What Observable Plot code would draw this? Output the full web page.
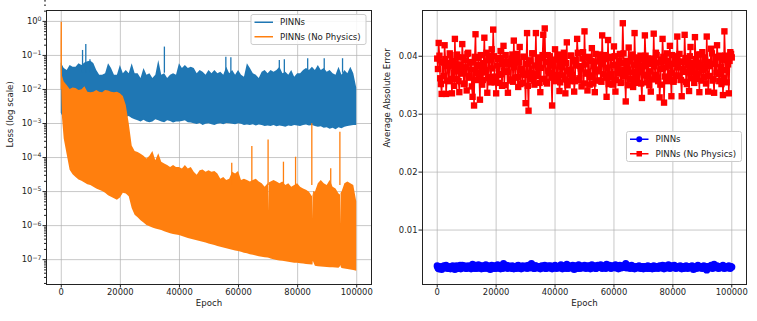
<!DOCTYPE html>
<html><head><meta charset="utf-8">
<script src="https://cdn.jsdelivr.net/npm/d3@7"></script>
<script src="https://cdn.jsdelivr.net/npm/@observablehq/plot@0.6"></script>
<style>
body{margin:0;background:#fff}
#fig{position:relative;width:757px;height:321px;background:#fff}
#fig svg{position:absolute;top:0}
</style>
</head><body><div id="fig"></div><script>
// ---------- Left panel: training loss (log scale) ----------
const seriesNames = ["PINNs", "PINNs (No Physics)"];
const xTicks = [0, 20000, 40000, 60000, 80000, 100000];
const lossTicks = [1e-7, 1e-6, 1e-5, 1e-4, 1e-3, 1e-2, 1e-1, 1];
const errTicks = [0.01, 0.02, 0.03, 0.04];

// PINNs loss envelope, every 1000 epochs (0..100000)
const pinnLossEpoch = d3.range(0, 100001, 1000);
const pinnLossHigh = [
  0.06, 0.041, 0.036, 0.051, 0.045, 0.045, 0.057, 0.051, 0.06, 0.065,
  0.068, 0.058, 0.036, 0.026, 0.026, 0.029, 0.057, 0.041, 0.026, 0.026,
  0.051, 0.029, 0.036, 0.029, 0.057, 0.029, 0.029, 0.021, 0.041, 0.026,
  0.029, 0.021, 0.026, 0.071, 0.026, 0.029, 0.021, 0.026, 0.029, 0.026,
  0.057, 0.041, 0.051, 0.041, 0.045, 0.041, 0.029, 0.036, 0.032, 0.026,
  0.036, 0.029, 0.036, 0.029, 0.032, 0.026, 0.045, 0.029, 0.036, 0.026,
  0.036, 0.026, 0.023, 0.057, 0.041, 0.029, 0.026, 0.021, 0.032, 0.036,
  0.029, 0.036, 0.032, 0.036, 0.045, 0.029, 0.032, 0.026, 0.036, 0.023,
  0.029, 0.029, 0.036, 0.041, 0.036, 0.045, 0.036, 0.051, 0.036, 0.041,
  0.032, 0.036, 0.029, 0.026, 0.045, 0.026, 0.036, 0.029, 0.045, 0.029,
  0.011];
const pinnLossLow = [
  0.002, 0.0013, 0.0012, 0.0012, 0.0011, 0.0012, 0.0013, 0.0012, 0.0011, 0.0012,
  0.0012, 0.0011, 0.0013, 0.0012, 0.0011, 0.0012, 0.0012, 0.0011, 0.0012, 0.0013,
  0.0013, 0.0014, 0.0015, 0.0016, 0.0014, 0.0013, 0.0012, 0.0011, 0.00125, 0.0011,
  0.00105, 0.0011, 0.0013, 0.0012, 0.0011, 0.00105, 0.0012, 0.00115, 0.00103, 0.0011,
  0.0011, 0.00115, 0.0012, 0.00105, 0.00103, 0.00098, 0.00094, 0.001, 0.00087, 0.00095,
  0.00098, 0.00092, 0.00087, 0.00095, 0.00098, 0.00092, 0.001, 0.00098, 0.00095, 0.00092,
  0.00098, 0.00095, 0.00087, 0.0009, 0.00087, 0.00092, 0.00085, 0.0009, 0.00087, 0.00082,
  0.00085, 0.00082, 0.00087, 0.0008, 0.00085, 0.00082, 0.00078, 0.00085, 0.00082, 0.00087,
  0.00085, 0.00082, 0.00087, 0.0009, 0.00085, 0.00087, 0.00082, 0.00078, 0.0008, 0.00072,
  0.00075, 0.00068, 0.00072, 0.00066, 0.00075, 0.0007, 0.00078, 0.00082, 0.00085, 0.00088,
  0.00088];
const pinnSpikeEpoch = [7200, 8300, 9700, 34900, 55700, 57400, 73800, 75500, 83400, 89000, 95200];
const pinnSpikeTop   = [0.14, 0.21, 0.075, 0.176, 0.089, 0.085, 0.071, 0.075, 0.08, 0.08, 0.08];

// PINNs (No Physics) loss envelope
const noPhysEarlyEpoch = [0, 150, 400];
const noPhysEarlyHigh  = [0.95, 0.06, 0.025];
const noPhysEarlyLow   = [0.05, 0.01, 0.0015];
const noPhysLossEpoch = d3.range(1000, 100001, 1000);
const noPhysLossHigh = [
  0.0165, 0.013, 0.010, 0.011, 0.0107, 0.0093, 0.0098, 0.012, 0.0083, 0.008,
  0.0083, 0.0093, 0.0083, 0.008, 0.0093, 0.009, 0.0083, 0.008, 0.0083, 0.0075,
  0.0062, 0.0034, 0.00098, 0.00022, 0.00015, 1.4e-4, 1.25e-4, 1.1e-4, 9e-5, 1.1e-4,
  1.5e-4, 8e-5, 1.3e-4, 7.3e-5, 6.5e-5, 5.8e-5, 5.1e-5, 5.8e-5, 5.1e-5, 5.1e-5,
  4.6e-5, 5.8e-5, 4.6e-5, 5.1e-5, 3.7e-5, 3.0e-5, 4.1e-5, 4.3e-5, 3.7e-5, 4.1e-5,
  3.7e-5, 3.9e-5, 3.3e-5, 2.3e-5, 2.6e-5, 2.1e-5, 2.3e-5, 3.7e-5, 3.3e-5, 3.9e-5,
  2.1e-5, 2.3e-5, 2.1e-5, 1.9e-5, 2.1e-5, 2.3e-5, 1.9e-5, 1.7e-5, 1.35e-5, 1.7e-5,
  1.9e-5, 2.1e-5, 1.9e-5, 1.7e-5, 1.9e-5, 1.5e-5, 1.7e-5, 1.35e-5, 1.5e-5, 1.7e-5,
  1.35e-5, 1.2e-5, 1.1e-5, 9.5e-6, 7e-6, 9.5e-6, 1.7e-5, 2.1e-5, 1.7e-5, 1.5e-5,
  2.1e-5, 1.35e-5, 1.2e-5, 8.5e-6, 9.5e-6, 1.7e-5, 1.9e-5, 1.7e-5, 1.5e-5, 5e-6];
const noPhysLossLow = [
  3.5e-4, 1.2e-4, 4.2e-5, 3.1e-5, 2.6e-5, 2.2e-5, 2.0e-5, 1.8e-5, 1.6e-5, 1.5e-5,
  1.35e-5, 1.2e-5, 1.1e-5, 1.0e-5, 9e-6, 7.5e-6, 6.8e-6, 6.2e-6, 5.6e-6, 6.5e-6,
  9e-6, 8.5e-6, 7e-6, 3.2e-6, 2.0e-6, 1.7e-6, 1.4e-6, 1.2e-6, 1.0e-6, 9.2e-7,
  8.5e-7, 8.0e-7, 7.6e-7, 7.2e-7, 6.6e-7, 6.2e-7, 5.8e-7, 5.5e-7, 5.3e-7, 5.1e-7,
  4.8e-7, 4.5e-7, 4.2e-7, 4.0e-7, 3.8e-7, 3.6e-7, 3.4e-7, 3.25e-7, 3.1e-7, 2.9e-7,
  2.75e-7, 2.6e-7, 2.45e-7, 2.3e-7, 2.2e-7, 2.1e-7, 2.0e-7, 1.9e-7, 1.8e-7, 1.75e-7,
  1.65e-7, 1.55e-7, 1.48e-7, 1.4e-7, 1.35e-7, 1.28e-7, 1.22e-7, 1.18e-7, 1.14e-7, 1.12e-7,
  1.05e-7, 1.0e-7, 9.5e-8, 9.2e-8, 9.0e-8, 8.7e-8, 8.4e-8, 8.1e-8, 7.9e-8, 7.8e-8,
  7.6e-8, 7.4e-8, 7.2e-8, 7.1e-8, 7.0e-8, 6.4e-8, 6.2e-8, 6.1e-8, 6.0e-8, 5.9e-8,
  5.8e-8, 5.75e-8, 5.7e-8, 5.6e-8, 5.5e-8, 5.3e-8, 5.1e-8, 5.0e-8, 4.8e-8, 4.6e-8];
const noPhysNotchEpoch = [70200, 70300, 70400, 85200, 85300, 85400, 94500, 94600, 94700];
const noPhysNotchHigh  = [1.7e-5, 2.5e-6, 1.8e-5, 9e-6, 1.6e-6, 1e-5, 8e-6, 1.1e-6, 9e-6];
const noPhysNotchLow   = [1.1e-7, 1.1e-7, 1.1e-7, 7e-8, 9e-8, 8.5e-8, 6.2e-8, 6.8e-8, 6.2e-8];
const noPhysSpikeEpoch = [0, 57700, 64500, 70000, 75200, 79300, 84800, 91200, 94300];
const noPhysSpikeTop   = [0.95, 6.8e-5, 2.1e-4, 3.3e-4, 7.3e-5, 1.02e-4, 9.8e-4, 4.7e-5, 5.5e-4];
const noPhysSpikeBase  = [0.01, 1.5e-5, 1.5e-5, 1.5e-5, 1.5e-5, 1.5e-5, 1.5e-5, 1.5e-5, 1.5e-5];

// ---------- Right panel: average absolute error ----------
// recorded at epochs 0, 500, ..., 100000
const errEpoch = d3.range(0, 100001, 500);
const pinnErr = [
  0.0038,0.0033,0.0036,0.0032,0.0037,0.0035,0.0039,0.0034,0.0036,0.0033,
  0.0037,0.0035,0.0032,0.0038,0.0034,0.0036,0.0033,0.0039,0.0035,0.0037,
  0.0034,0.0038,0.0036,0.0033,0.0041,0.0035,0.0039,0.0034,0.0040,0.0036,
  0.0033,0.0038,0.0035,0.0040,0.0034,0.0037,0.0032,0.0039,0.0035,0.0038,
  0.0034,0.0040,0.0036,0.0033,0.0038,0.0042,0.0035,0.0039,0.0034,0.0037,
  0.0035,0.0038,0.0033,0.0037,0.0034,0.0039,0.0036,0.0033,0.0038,0.0035,
  0.0037,0.0034,0.0039,0.0035,0.0042,0.0036,0.0034,0.0038,0.0035,0.0037,
  0.0033,0.0038,0.0035,0.0039,0.0034,0.0037,0.0035,0.0038,0.0033,0.0036,
  0.0039,0.0034,0.0037,0.0035,0.0040,0.0033,0.0038,0.0036,0.0041,0.0034,
  0.0037,0.0035,0.0039,0.0032,0.0038,0.0036,0.0040,0.0034,0.0037,0.0035,
  0.0039,0.0034,0.0038,0.0036,0.0033,0.0040,0.0035,0.0038,0.0034,0.0039,
  0.0036,0.0040,0.0034,0.0038,0.0035,0.0041,0.0036,0.0039,0.0034,0.0038,
  0.0035,0.0040,0.0036,0.0033,0.0039,0.0035,0.0038,0.0036,0.0042,0.0035,
  0.0038,0.0034,0.0039,0.0036,0.0033,0.0037,0.0035,0.0038,0.0034,0.0036,
  0.0033,0.0037,0.0035,0.0038,0.0034,0.0036,0.0033,0.0038,0.0035,0.0037,
  0.0034,0.0038,0.0035,0.0039,0.0033,0.0037,0.0035,0.0040,0.0034,0.0038,
  0.0036,0.0039,0.0034,0.0037,0.0035,0.0038,0.0033,0.0037,0.0035,0.0038,
  0.0034,0.0037,0.0035,0.0038,0.0032,0.0036,0.0034,0.0039,0.0035,0.0037,
  0.0034,0.0038,0.0035,0.0031,0.0037,0.0035,0.0039,0.0034,0.0041,0.0036,
  0.0038,0.0034,0.0037,0.0035,0.0039,0.0034,0.0037,0.0035,0.0038,0.0034,
  0.0036];
const noPhysErr = [
  0.0396,0.0423,0.0362,0.0335,0.0391,0.0419,0.0335,0.0388,0.0357,0.0402,
  0.0336,0.0384,0.0430,0.0361,0.0398,0.0338,0.0379,0.0421,0.0352,0.0393,
  0.0341,0.0406,0.0366,0.0389,0.0330,0.0315,0.0438,0.0371,0.0397,0.0325,
  0.0382,0.0359,0.0432,0.0376,0.0337,0.0401,0.0364,0.0412,0.0446,0.0355,
  0.0336,0.0395,0.0368,0.0409,0.0349,0.0418,0.0374,0.0391,0.0337,0.0386,
  0.0358,0.0403,0.0427,0.0363,0.0396,0.0347,0.0416,0.0378,0.0354,0.0399,
  0.0319,0.0440,0.0306,0.0392,0.0361,0.0405,0.0351,0.0440,0.0369,0.0388,
  0.0338,0.0397,0.0437,0.0448,0.0356,0.0402,0.0371,0.0393,0.0315,0.0384,
  0.0412,0.0362,0.0398,0.0340,0.0389,0.0367,0.0406,0.0336,0.0424,0.0375,
  0.0357,0.0401,0.0366,0.0339,0.0394,0.0430,0.0359,0.0383,0.0348,0.0407,
  0.0443,0.0372,0.0341,0.0396,0.0364,0.0414,0.0353,0.0338,0.0391,0.0377,
  0.0403,0.0358,0.0436,0.0369,0.0395,0.0330,0.0428,0.0363,0.0399,0.0351,
  0.0417,0.0339,0.0385,0.0370,0.0404,0.0355,0.0457,0.0376,0.0322,0.0392,
  0.0415,0.0361,0.0398,0.0347,0.0440,0.0373,0.0389,0.0354,0.0401,0.0328,
  0.0383,0.0436,0.0365,0.0396,0.0350,0.0339,0.0392,0.0439,0.0368,0.0402,
  0.0357,0.0329,0.0394,0.0430,0.0320,0.0381,0.0405,0.0363,0.0418,0.0331,
  0.0387,0.0359,0.0400,0.0434,0.0366,0.0391,0.0331,0.0378,0.0437,0.0356,
  0.0395,0.0340,0.0416,0.0372,0.0388,0.0433,0.0361,0.0403,0.0338,0.0382,
  0.0407,0.0364,0.0393,0.0434,0.0339,0.0386,0.0413,0.0358,0.0337,0.0397,
  0.0419,0.0369,0.0401,0.0352,0.0333,0.0443,0.0376,0.0394,0.0336,0.0407,
  0.0398];
// recorded at epochs 250, 750, ..., 99750
const errMidEpoch = d3.range(250, 100000, 500);
const pinnErrMid = [
  0.0035,0.0037,0.0034,0.0036,0.0038,0.0035,0.0036,0.0037,0.0034,0.0036,
  0.0038,0.0035,0.0037,0.0034,0.0036,0.0039,0.0035,0.0036,0.0038,0.0034,
  0.0036,0.0037,0.0035,0.0038,0.0036,0.0034,0.0037,0.0036,0.0035,0.0038,
  0.0036,0.0034,0.0037,0.0035,0.0038,0.0036,0.0035,0.0037,0.0034,0.0036,
  0.0037,0.0035,0.0038,0.0036,0.0034,0.0037,0.0036,0.0035,0.0038,0.0036,
  0.0034,0.0036,0.0037,0.0035,0.0038,0.0036,0.0034,0.0037,0.0035,0.0036,
  0.0038,0.0036,0.0035,0.0037,0.0036,0.0034,0.0038,0.0035,0.0036,0.0037,
  0.0035,0.0036,0.0037,0.0034,0.0036,0.0038,0.0035,0.0036,0.0037,0.0035,
  0.0036,0.0037,0.0035,0.0038,0.0036,0.0035,0.0037,0.0034,0.0036,0.0038,
  0.0035,0.0037,0.0036,0.0035,0.0037,0.0034,0.0036,0.0038,0.0035,0.0036,
  0.0037,0.0035,0.0036,0.0038,0.0035,0.0037,0.0036,0.0034,0.0037,0.0036,
  0.0038,0.0035,0.0036,0.0037,0.0034,0.0036,0.0038,0.0035,0.0037,0.0036,
  0.0037,0.0035,0.0038,0.0036,0.0035,0.0037,0.0036,0.0039,0.0035,0.0037,
  0.0036,0.0035,0.0037,0.0034,0.0036,0.0035,0.0037,0.0036,0.0035,0.0037,
  0.0035,0.0036,0.0034,0.0036,0.0037,0.0035,0.0036,0.0034,0.0037,0.0035,
  0.0036,0.0037,0.0035,0.0036,0.0038,0.0035,0.0036,0.0037,0.0036,0.0035,
  0.0037,0.0036,0.0035,0.0036,0.0037,0.0035,0.0036,0.0034,0.0036,0.0037,
  0.0035,0.0036,0.0037,0.0035,0.0034,0.0036,0.0037,0.0035,0.0036,0.0035,
  0.0036,0.0035,0.0037,0.0034,0.0036,0.0037,0.0035,0.0038,0.0036,0.0035,
  0.0037,0.0035,0.0036,0.0037,0.0035,0.0036,0.0037,0.0035,0.0036,0.0037];
const noPhysErrMid = [
  0.0378,0.0401,0.0352,0.0389,0.0366,0.0395,0.0358,0.0383,0.0405,0.0361,
  0.0392,0.0349,0.0374,0.0403,0.0357,0.0386,0.0370,0.0398,0.0353,0.0381,
  0.0404,0.0363,0.0390,0.0348,0.0377,0.0399,0.0359,0.0385,0.0367,0.0402,
  0.0351,0.0388,0.0372,0.0406,0.0362,0.0393,0.0355,0.0379,0.0400,0.0365,
  0.0384,0.0354,0.0397,0.0369,0.0387,0.0350,0.0402,0.0373,0.0391,0.0360,
  0.0396,0.0356,0.0382,0.0404,0.0364,0.0389,0.0352,0.0376,0.0399,0.0368,
  0.0387,0.0349,0.0393,0.0371,0.0405,0.0358,0.0384,0.0366,0.0398,0.0354,
  0.0380,0.0402,0.0361,0.0390,0.0353,0.0375,0.0400,0.0363,0.0386,0.0357,
  0.0394,0.0368,0.0403,0.0355,0.0381,0.0397,0.0360,0.0388,0.0350,0.0377,
  0.0401,0.0365,0.0391,0.0357,0.0384,0.0406,0.0362,0.0379,0.0396,0.0353,
  0.0386,0.0370,0.0399,0.0351,0.0392,0.0367,0.0383,0.0404,0.0358,0.0374,
  0.0395,0.0356,0.0389,0.0402,0.0363,0.0380,0.0352,0.0397,0.0369,0.0385,
  0.0400,0.0359,0.0377,0.0393,0.0354,0.0388,0.0405,0.0366,0.0382,0.0350,
  0.0391,0.0372,0.0403,0.0357,0.0385,0.0364,0.0398,0.0376,0.0353,0.0394,
  0.0368,0.0401,0.0355,0.0387,0.0374,0.0396,0.0360,0.0383,0.0406,0.0362,
  0.0389,0.0351,0.0378,0.0399,0.0365,0.0392,0.0357,0.0384,0.0371,0.0402,
  0.0356,0.0393,0.0367,0.0381,0.0404,0.0359,0.0390,0.0373,0.0397,0.0352,
  0.0385,0.0400,0.0362,0.0379,0.0354,0.0395,0.0370,0.0388,0.0403,0.0358,
  0.0376,0.0398,0.0353,0.0390,0.0366,0.0383,0.0405,0.0361,0.0387,0.0372,
  0.0399,0.0357,0.0381,0.0394,0.0363,0.0401,0.0355,0.0386,0.0392,0.0404];

// ---------- build rows ----------
const pinnLossRows = pinnLossEpoch.map((e, i) => ({epoch: e, low: pinnLossLow[i], high: pinnLossHigh[i]}));
const noPhysLossRows = [
  ...noPhysEarlyEpoch.map((e, i) => ({epoch: e, low: noPhysEarlyLow[i], high: noPhysEarlyHigh[i]})),
  ...noPhysLossEpoch.map((e, i) => ({epoch: e, low: noPhysLossLow[i], high: noPhysLossHigh[i]})),
  ...noPhysNotchEpoch.map((e, i) => ({epoch: e, low: noPhysNotchLow[i], high: noPhysNotchHigh[i]}))
].sort((a, b) => a.epoch - b.epoch);
const pinnSpikes = pinnSpikeEpoch.map((e, i) => ({epoch: e, base: 0.03, top: pinnSpikeTop[i]}));
const noPhysSpikes = noPhysSpikeEpoch.map((e, i) => ({epoch: e, base: noPhysSpikeBase[i], top: noPhysSpikeTop[i]}));
const byEpoch = (a, b) => a.epoch - b.epoch;
const pinnErrRows = [
  ...errEpoch.map((e, i) => ({epoch: e, value: pinnErr[i]})),
  ...errMidEpoch.map((e, i) => ({epoch: e, value: pinnErrMid[i]}))
].sort(byEpoch);
const noPhysErrRows = [
  ...errEpoch.map((e, i) => ({epoch: e, value: noPhysErr[i]})),
  ...errMidEpoch.map((e, i) => ({epoch: e, value: noPhysErrMid[i]}))
].sort(byEpoch);

const C1 = "#1f77b4", C2 = "#ff7f0e";
const FONT = "DejaVu Sans";
const powFmt = d => "10^" + String(Math.round(Math.log10(d))).replace("-", "\u2212");
const minorTicks = [];
for (let k = -8; k <= 0; k++) for (let m = 2; m <= 9; m++) minorTicks.push(m * Math.pow(10, k));
const gridStyle = {stroke: "#b0b0b0", strokeOpacity: 0.7, strokeWidth: 1};
const commonStyle = {fontFamily: FONT, fontSize: "8.4px", background: "white", color: "#222", overflow: "visible"};

const left = Plot.plot({
  width: 380, height: 321,
  marginLeft: 46, marginRight: 9, marginTop: 10, marginBottom: 37,
  style: commonStyle,
  x: {domain: [-5000, 105000]},
  y: {type: "log", domain: [Math.pow(10, -7.73), Math.pow(10, 0.32)]},
  marks: [
    Plot.gridX(xTicks, gridStyle),
    Plot.gridY(lossTicks, gridStyle),
    Plot.areaY(pinnLossRows, {x: "epoch", y1: "low", y2: "high", fill: C1}),
    Plot.ruleX(pinnSpikes, {x: "epoch", y1: "base", y2: "top", stroke: C1, strokeWidth: 1.3}),
    Plot.areaY(noPhysLossRows, {x: "epoch", y1: "low", y2: "high", fill: C2}),
    Plot.ruleX(noPhysSpikes, {x: "epoch", y1: "base", y2: "top", stroke: C2, strokeWidth: 1.3}),
    Plot.frame({stroke: "#222", strokeWidth: 1}),
    Plot.axisX({ticks: xTicks, tickFormat: d => String(d), tickSize: 3.5, tickPadding: 1.5, label: null}),
    Plot.axisY({ticks: lossTicks, tickFormat: powFmt, tickSize: 3.5, tickPadding: 1.5, label: null}),
    Plot.axisY({ticks: minorTicks, tickFormat: () => "", tickSize: 2, label: null}),
    Plot.text(["Epoch"], {text: d => d, frameAnchor: "bottom", dy: 21, fontSize: 8.6}),
    Plot.text(["Loss (log scale)"], {text: d => d, frameAnchor: "left", rotate: -90, dx: -36, fontSize: 8.6})
  ]
});

// render the exponent of the log tick labels as a raised, smaller tspan
d3.select(left).selectAll("text").each(function () {
  const t = this.textContent;
  if (t.startsWith("10^")) {
    const exp = t.slice(3);
    this.textContent = "10";
    d3.select(this).append("tspan").attr("dy", "-0.45em").attr("font-size", "6.2px").text(exp);
  }
});

const right = Plot.plot({
  width: 377, height: 321,
  marginLeft: 42, marginRight: 11, marginTop: 10, marginBottom: 37,
  style: commonStyle,
  x: {domain: [-5000, 105000]},
  y: {domain: [0.0006, 0.0479]},
  marks: [
    Plot.gridX(xTicks, gridStyle),
    Plot.gridY(errTicks, gridStyle),
    Plot.line(pinnErrRows, {x: "epoch", y: "value", stroke: "#0000ff", strokeWidth: 1.5}),
    Plot.dot(pinnErrRows, {x: "epoch", y: "value", fill: "#0000ff", r: 3.6}),
    Plot.line(noPhysErrRows, {x: "epoch", y: "value", stroke: "#ff0000", strokeWidth: 1.5}),
    Plot.dot(noPhysErrRows, {x: "epoch", y: "value", fill: "#ff0000", symbol: "square", r: 3.6}),
    Plot.frame({stroke: "#222", strokeWidth: 1}),
    Plot.axisX({ticks: xTicks, tickFormat: d => String(d), tickSize: 3.5, tickPadding: 1.5, label: null}),
    Plot.axisY({ticks: errTicks, tickFormat: d => d.toFixed(2), tickSize: 3.5, tickPadding: 1.5, label: null}),
    Plot.text(["Epoch"], {text: d => d, frameAnchor: "bottom", dy: 21, fontSize: 8.6}),
    Plot.text(["Average Absolute Error"], {text: d => d, frameAnchor: "left", rotate: -90, dx: -35, fontSize: 8.6})
  ]
});

function addLegend(svg, bx, by, items) {
  const g = d3.select(svg).append("g").attr("font-family", FONT).attr("font-size", 8.6).attr("text-anchor", "start");
  g.append("rect").attr("x", bx).attr("y", by).attr("width", 115).attr("height", 30).attr("rx", 2)
    .attr("fill", "white").attr("fill-opacity", 0.85).attr("stroke", "#cccccc").attr("stroke-width", 1);
  items.forEach((it, i) => {
    const yy = by + 7.75 + i * 14.5;
    g.append("line").attr("x1", bx + 3.5).attr("x2", bx + 22).attr("y1", yy).attr("y2", yy)
      .attr("stroke", it.color).attr("stroke-width", 1.5);
    if (it.marker === "circle") g.append("circle").attr("cx", bx + 12.75).attr("cy", yy).attr("r", 3).attr("fill", it.color);
    if (it.marker === "square") g.append("rect").attr("x", bx + 10).attr("y", yy - 2.75).attr("width", 5.5).attr("height", 5.5).attr("fill", it.color);
    g.append("text").attr("x", bx + 29).attr("y", yy).attr("dy", "0.35em").attr("fill", "#222").attr("text-anchor", "start").text(it.label);
  });
}
addLegend(left, 251, 14.5, [{color: C1, label: seriesNames[0]}, {color: C2, label: seriesNames[1]}]);
addLegend(right, 246.5, 131.5, [{color: "#0000ff", marker: "circle", label: seriesNames[0]}, {color: "#ff0000", marker: "square", label: seriesNames[1]}]);

left.style.left = "0px";
right.style.left = "380px";
document.getElementById("fig").append(left, right);
</script></body></html>
